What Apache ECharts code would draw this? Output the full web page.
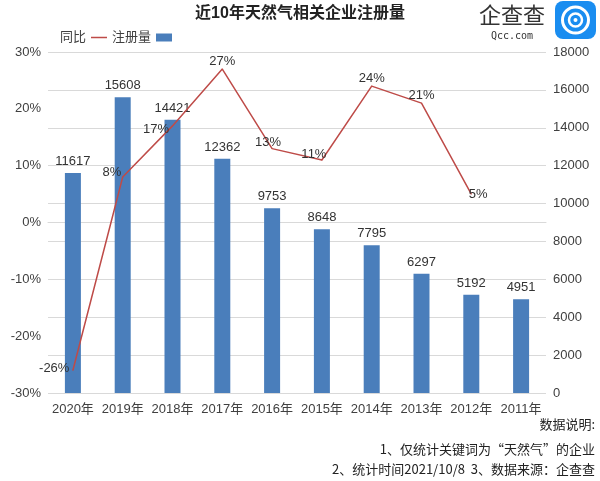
<!DOCTYPE html>
<html>
<head>
<meta charset="utf-8">
<script src="https://cdn.jsdelivr.net/npm/echarts@6/dist/echarts.min.js"></script>
<style>
html,body{margin:0;padding:0;background:#fff;}
#c{width:600px;height:481px;}
</style>
</head>
<body>
<div id="c"></div>
<script>
var categories = ['2011年','2012年','2013年','2014年','2015年','2016年','2017年','2018年','2019年','2020年'];
var registrations = [4951, 5192, 6297, 7795, 8648, 9753, 12362, 14421, 15608, 11617];
var growthPct = [null, 5, 21, 24, 11, 13, 27, 17, 8, -26];
var growthLabelPos = [null, 'right', 'top', 'top', 'top', 'top', 'top', 'left', 'left', 'left'];
var pctTicks = {min: -30, max: 30, interval: 10};
var countTicks = {min: 0, max: 18000, interval: 2000};
var titleText = '近10年天然气相关企业注册量';
var notes = ['数据说明:', '1、仅统计关键词为“天然气”的企业', '2、统计时间2021/10/8  3、数据来源：企查查'];

var FONT = '"Liberation Sans","Noto Sans CJK SC",sans-serif';
var labelOffsets = [null, [-6,0], [0,2], [0,2], [-8,4], [-4,4], [0,2], [0,4], [2,-5], [0,-2]];

var lineData = growthPct.map(function (v, i) {
  if (v === null) return null;
  return {
    value: v,
    label: {show: true, position: growthLabelPos[i], distance: 3, offset: labelOffsets[i]}
  };
});

var chart = echarts.init(document.getElementById('c'));
chart.setOption({
  animation: false,
  textStyle: {fontFamily: FONT},
  legend: {
    data: [
      {name: '同比', icon: 'path://M0,0h0.01v0.01h-0.01z M0,3.3H16V4.7H0Z M0,8h0.01v0.01h-0.01z', itemStyle: {color: '#be4b48'}},
      {name: '注册量', icon: 'rect'}
    ],
    left: 55, top: 26,
    align: 'right',
    itemWidth: 16, itemHeight: 8, itemGap: 5,
    textStyle: {fontSize: 13, color: '#404040', fontFamily: FONT}
  },
  grid: {left: 48, right: 54, top: 52, bottom: 88, containLabel: false},
  xAxis: {
    type: 'category',
    data: categories,
    inverse: true,
    axisLine: {show: true, lineStyle: {color: '#d9d9d9'}},
    axisTick: {show: false},
    axisLabel: {color: '#404040', fontSize: 13, margin: 10, interval: 0, fontFamily: FONT}
  },
  yAxis: [
    {
      type: 'value', position: 'left',
      min: pctTicks.min, max: pctTicks.max, interval: pctTicks.interval,
      splitLine: {show: false},
      axisLine: {show: false}, axisTick: {show: false},
      axisLabel: {formatter: '{value}%', color: '#404040', fontSize: 13, margin: 7, fontFamily: FONT}
    },
    {
      type: 'value', position: 'right',
      min: countTicks.min, max: countTicks.max, interval: countTicks.interval,
      splitLine: {show: true, lineStyle: {color: '#d9d9d9', width: 1}},
      axisLine: {show: false}, axisTick: {show: false},
      axisLabel: {formatter: function (v) { return String(v); }, color: '#404040', fontSize: 13, margin: 7, fontFamily: FONT}
    }
  ],
  series: [
    {
      name: '注册量', type: 'bar', yAxisIndex: 1,
      data: registrations, barWidth: 16,
      itemStyle: {color: '#4a7ebb'},
      label: {show: true, position: 'top', distance: 5, color: '#333', fontSize: 13, fontFamily: FONT}
    },
    {
      name: '同比', type: 'line', yAxisIndex: 0,
      data: lineData, symbol: 'circle', symbolSize: 1, showSymbol: true, connectNulls: false,
      lineStyle: {color: '#be4b48', width: 1.5},
      itemStyle: {color: '#be4b48'},
      label: {show: true, color: '#333', fontSize: 13, formatter: '{c}%', fontFamily: FONT}
    }
  ],
  graphic: [
    {type: 'text', left: 'center', top: 6, style: {text: titleText, fill: '#222', font: 'bold 16px ' + FONT}},
    {type: 'rect', shape: {x: 555, y: 1, width: 41, height: 38, r: 8}, style: {fill: '#1a8df0'}},
    {type: 'circle', shape: {cx: 575.5, cy: 20, r: 13}, style: {fill: 'none', stroke: '#fff', lineWidth: 3}},
    {type: 'circle', shape: {cx: 575.5, cy: 20, r: 6.5}, style: {fill: 'none', stroke: '#fff', lineWidth: 2.5}},
    {type: 'circle', shape: {cx: 575.5, cy: 20, r: 2}, style: {fill: '#fff'}},
    {type: 'text', style: {x: 512, y: 15, text: '企查查', fill: '#333', font: '22px "Noto Sans CJK SC",sans-serif', textAlign: 'center', textVerticalAlign: 'middle'}},
    {type: 'text', style: {x: 512, y: 36, text: 'Qcc.com', fill: '#333', font: '10px "DejaVu Sans Mono",monospace', textAlign: 'center', textVerticalAlign: 'middle'}},
    {type: 'text', style: {x: 595, y: 424, text: notes[0], fill: '#222', font: '13px "Noto Sans CJK SC",sans-serif', textAlign: 'right', textVerticalAlign: 'middle'}},
    {type: 'text', style: {x: 595, y: 449, text: notes[1], fill: '#222', font: '13px "Noto Sans CJK SC",sans-serif', textAlign: 'right', textVerticalAlign: 'middle'}},
    {type: 'text', style: {x: 595, y: 469, text: notes[2], fill: '#222', font: '13px "Noto Sans CJK SC",sans-serif', textAlign: 'right', textVerticalAlign: 'middle'}}
  ]
});
</script>
</body>
</html>
